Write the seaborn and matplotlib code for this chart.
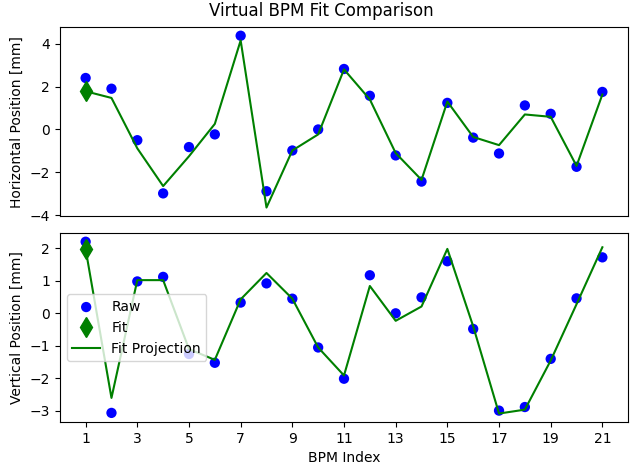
import matplotlib
matplotlib.use("Agg")
import matplotlib.pyplot as plt
import seaborn as sns
import numpy as np
import pandas as pd

# BPM indices
bpm_index = np.arange(1, 22)

# horizontal plane (mm)
raw_x = [2.40, 1.90, -0.50, -2.98, -0.82, -0.23, 4.37, -2.88, -0.98, 0.00, 2.82,
         1.57, -1.21, -2.43, 1.24, -0.38, -1.12, 1.12, 0.73, -1.74, 1.75]
proj_x = [1.78, 1.47, -0.88, -2.64, -1.25, 0.26, 4.15, -3.64, -0.98, -0.23, 2.80,
          1.40, -1.10, -2.35, 1.30, -0.35, -0.73, 0.70, 0.59, -1.70, 1.63]
fit_x = 1.78

# vertical plane (mm)
raw_y = [2.20, -3.06, 0.98, 1.12, -1.25, -1.52, 0.33, 0.92, 0.45, -1.05, -2.01,
         1.17, 0.00, 0.49, 1.60, -0.48, -2.99, -2.88, -1.40, 0.46, 1.72]
proj_y = [1.97, -2.60, 1.02, 1.02, -1.10, -1.43, 0.43, 1.24, 0.45, -1.05, -1.91,
          0.84, -0.23, 0.21, 1.98, -0.40, -3.08, -2.96, -1.45, 0.28, 2.03]
fit_y = 1.97

df = pd.DataFrame({"bpm": bpm_index, "raw_x": raw_x, "proj_x": proj_x,
                   "raw_y": raw_y, "proj_y": proj_y})

fig, (ax1, ax2) = plt.subplots(2, 1, figsize=(6.43, 4.68), dpi=100, sharex=True)

for ax, raw, proj, fit in [(ax1, "raw_x", "proj_x", fit_x), (ax2, "raw_y", "proj_y", fit_y)]:
    sns.scatterplot(data=df, x="bpm", y=raw, ax=ax, color="blue", s=55,
                    edgecolor="none", label="Raw", zorder=2)
    ax.plot([1], [fit], linestyle="none", marker="d", markersize=10,
            color="green", label="Fit", zorder=2)
    sns.lineplot(data=df, x="bpm", y=proj, ax=ax, color="green",
                 linewidth=1.5, label="Fit Projection", zorder=3)

ax1.get_legend().remove()
ax1.tick_params(axis="x", bottom=False)
ax1.set_xlabel("")
ax1.set_ylabel("Horizontal Position [mm]")

ax2.legend(loc="center left")
ax2.set_xlabel("BPM Index")
ax2.set_ylabel("Vertical Position [mm]")
ax2.set_xticks(np.arange(1, 22, 2))
ax2.set_xlim(0, 22)

fig.suptitle("Virtual BPM Fit Comparison", y=0.995)
fig.subplots_adjust(left=0.093, right=0.977, top=0.942, bottom=0.098, hspace=0.09)
fig.savefig("out.png", dpi=100)
